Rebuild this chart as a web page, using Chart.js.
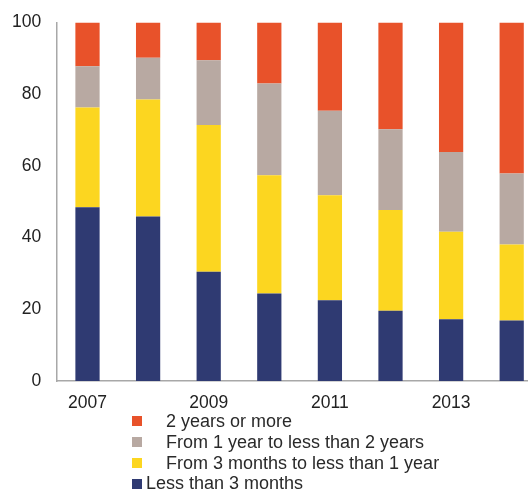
<!DOCTYPE html>
<html>
<head>
<meta charset="utf-8">
<script src="https://cdn.jsdelivr.net/npm/chart.js@4/dist/chart.umd.min.js"></script>
<style>
  html, body { margin: 0; padding: 0; background: #fff; overflow: hidden; }
  #wrap { position: relative; width: 528px; height: 490px; overflow: hidden; }
  #box { position: absolute; left: -8px; top: -4px; width: 553px; height: 430px; }
  #legend { position: absolute; left: 132px; top: 411px; font-family: "Liberation Sans", Arial, sans-serif; font-size: 18px; color: #2a2a2a; }
  .row { display: flex; align-items: center; height: 20.8px; }
  .sw { width: 10px; height: 10px; }
</style>
</head>
<body>
<div id="wrap">
  <div id="box"><canvas id="chart"></canvas></div>
  <div id="legend"></div>
</div>
<script>
const years = ['2007', '2008', '2009', '2010', '2011', '2012', '2013', '2014'];
const lessThan3m = [48.5, 45.9, 30.5, 24.4, 22.5, 19.6, 17.2, 16.9];
const from3mTo1y = [27.8, 32.6, 40.9, 33.0, 29.3, 28.1, 24.4, 21.2];
const from1yTo2y = [11.5, 11.7, 18.1, 25.6, 23.6, 22.5, 22.3, 19.8];
const twoYearsPlus = [12.2, 9.8, 10.5, 17.0, 24.6, 29.8, 36.1, 42.1];
const yTicks = [0, 20, 40, 60, 80, 100];

const series = [
    {label: 'Less than 3 months', data: lessThan3m, color: '#2f3a72'},
    {label: 'From 3 months to less than 1 year', data: from3mTo1y, color: '#fcd620'},
    {label: 'From 1 year to less than 2 years', data: from1yTo2y, color: '#b8a9a2'},
    {label: '2 years or more', data: twoYearsPlus, color: '#e8522a'}
];

const font = {family: '"Liberation Sans", Arial, sans-serif', size: 17.5};

new Chart(document.getElementById('chart'), {
    type: 'bar',
    data: {
        labels: years,
        datasets: series.map(s => ({
            label: s.label,
            data: s.data,
            backgroundColor: s.color,
            borderWidth: 0,
            categoryPercentage: 1,
            barPercentage: 0.4
        }))
    },
    options: {
        responsive: true,
        maintainAspectRatio: false,
        animation: false,
        layout: {padding: {top: 5, left: 4, right: 3, bottom: 0}},
        plugins: {legend: {display: false}, tooltip: {enabled: false}},
        scales: {
            x: {
                stacked: true,
                grid: {display: false, drawTicks: false},
                border: {display: true, color: '#a8a8a8', width: 1.5},
                ticks: {
                    font: font, color: '#222', padding: 12, autoSkip: false, maxRotation: 0,
                    callback: (v, i) => i % 2 === 0 ? years[i] : ''
                }
            },
            y: {
                stacked: true,
                min: 0, max: 100,
                afterBuildTicks: axis => { axis.ticks = yTicks.map(v => ({value: v})); },
                grid: {display: false, drawTicks: false},
                border: {display: true, color: '#a8a8a8', width: 1.5},
                ticks: {font: font, color: '#222', padding: 16}
            }
        }
    }
});

const legend = document.getElementById('legend');
series.slice().reverse().forEach((s, i) => {
    const row = document.createElement('div');
    row.className = 'row';
    const sw = document.createElement('div');
    sw.className = 'sw';
    sw.style.background = s.color;
    const txt = document.createElement('span');
    txt.textContent = s.label;
    txt.style.marginLeft = i < 3 ? '24px' : '4px';
    row.appendChild(sw);
    row.appendChild(txt);
    legend.appendChild(row);
});
</script>
</body>
</html>
